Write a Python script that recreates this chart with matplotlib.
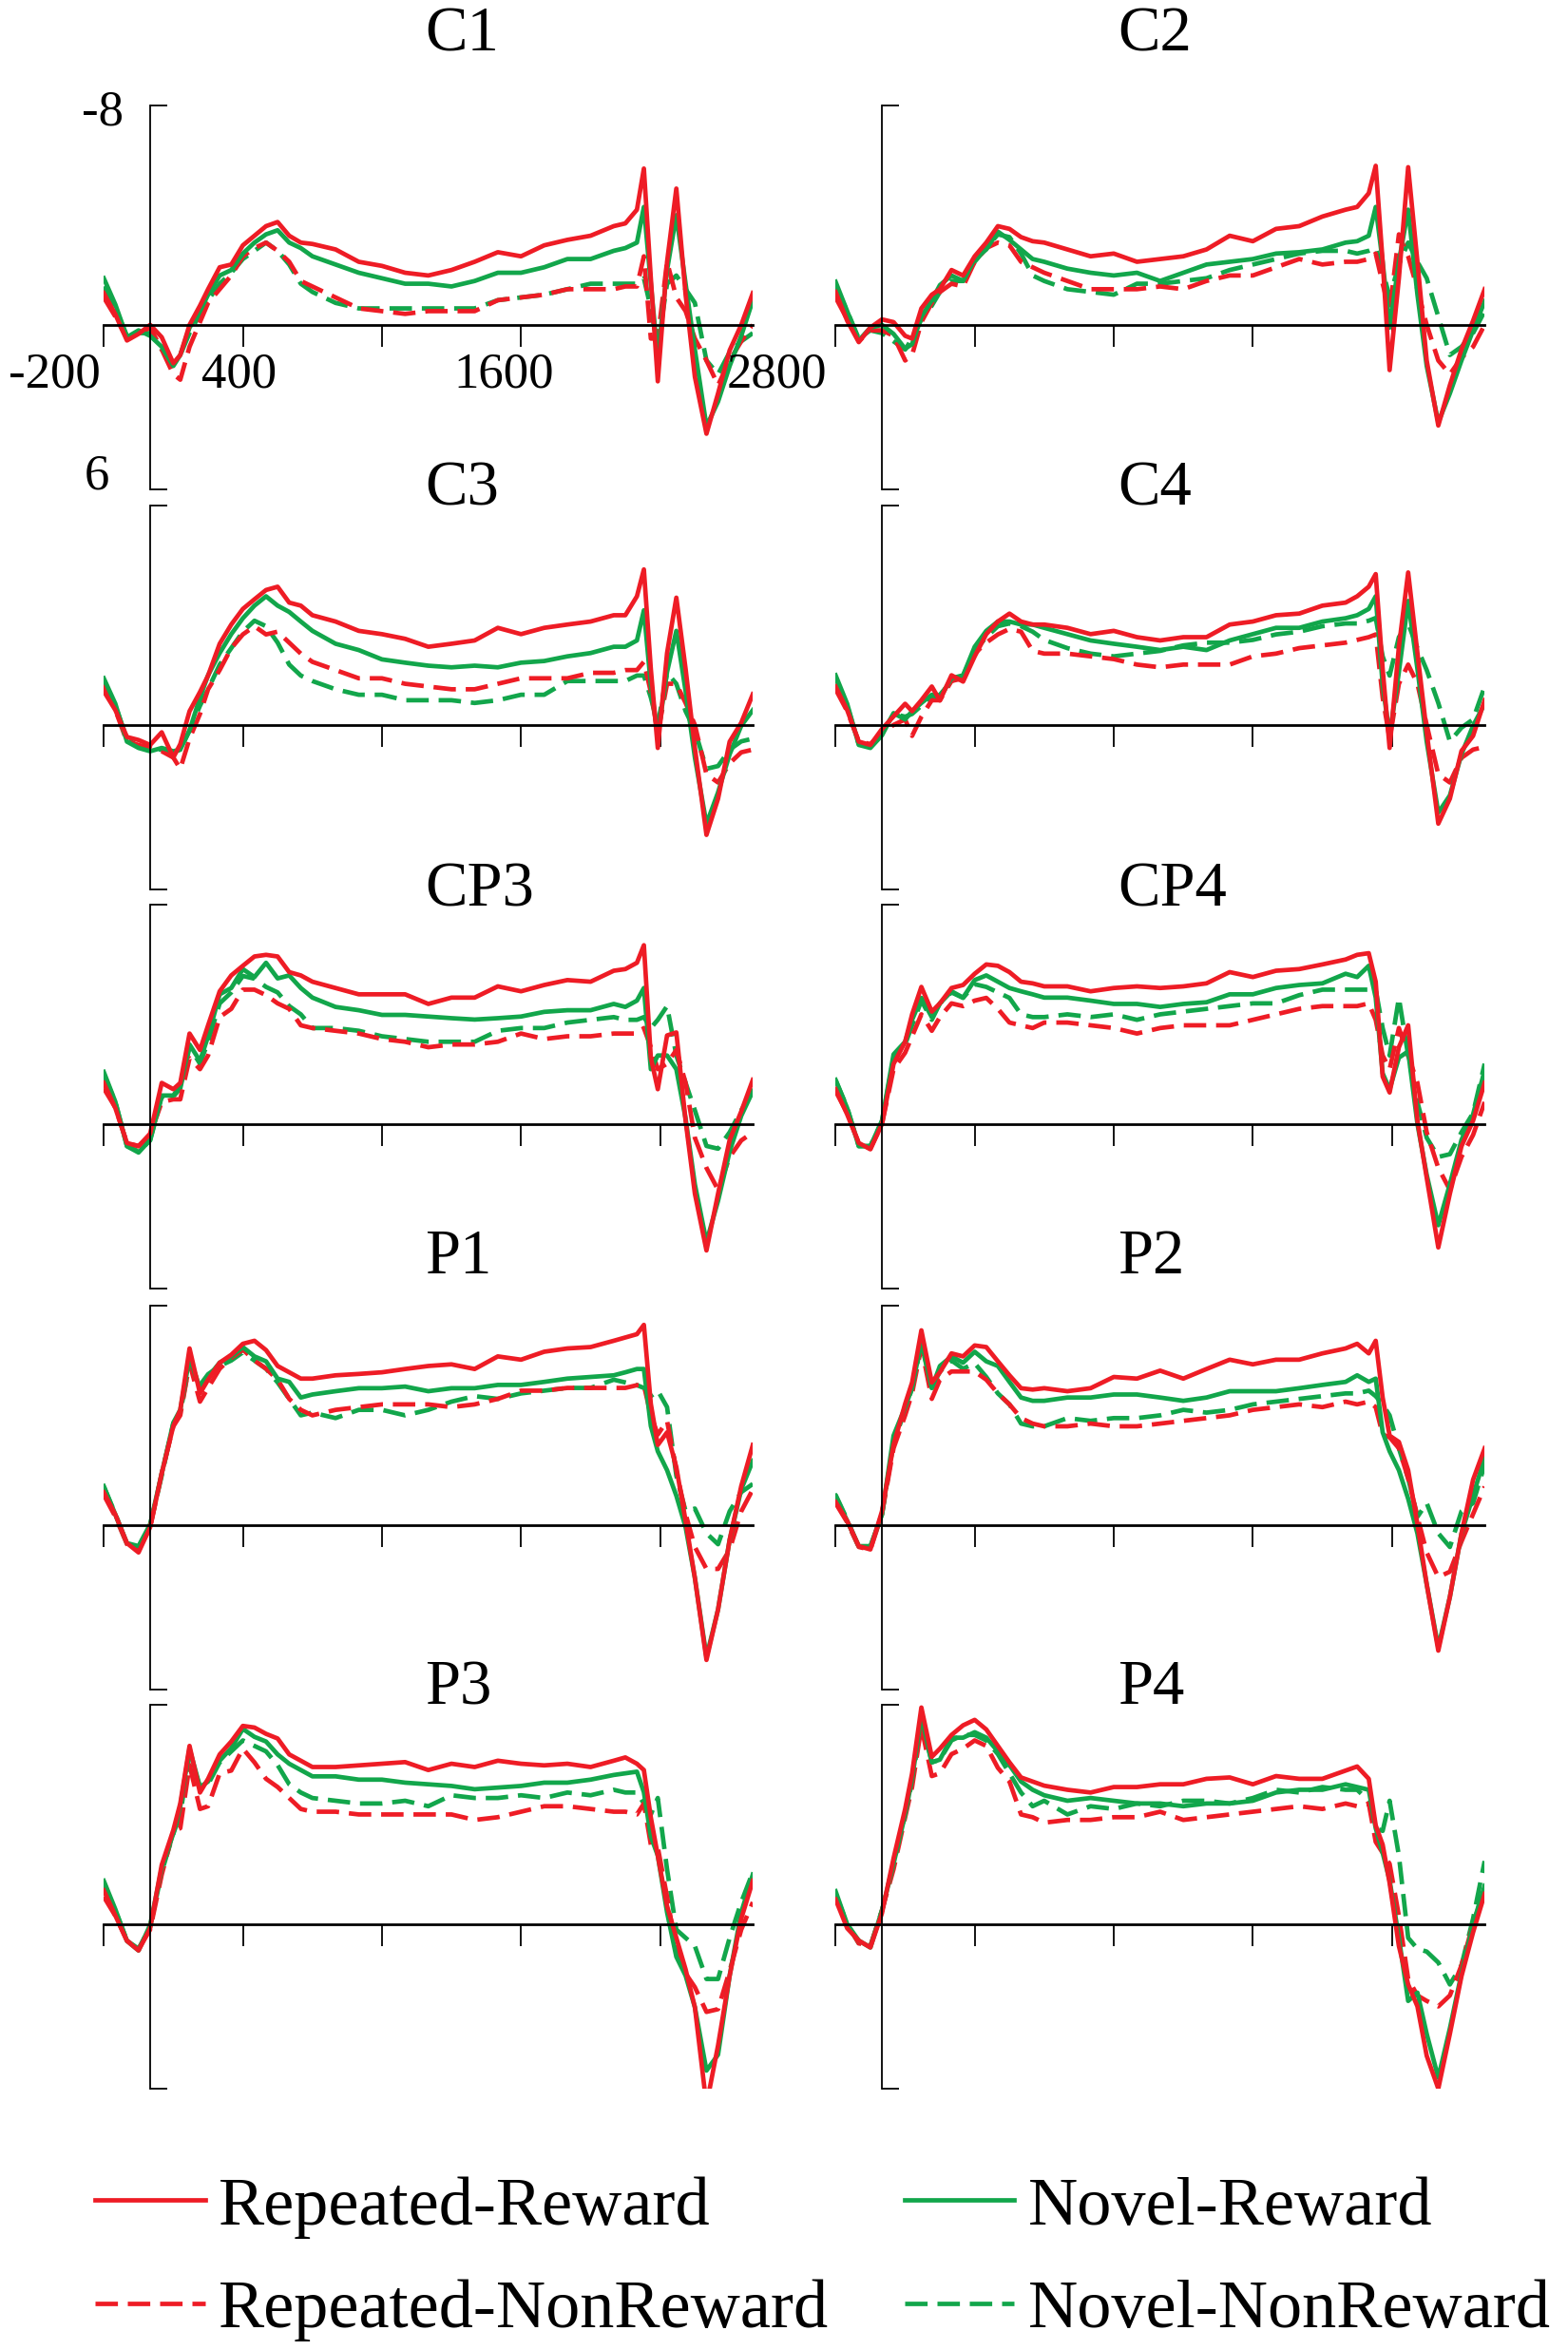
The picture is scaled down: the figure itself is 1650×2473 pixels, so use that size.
import matplotlib
matplotlib.use('Agg')
import matplotlib.pyplot as plt

# ---------------- data (microvolts, negative plotted upward) ----------------
T = [-200, -150, -100, -50, 0, 50, 100, 130, 170, 215, 250, 300, 350, 400, 450, 500, 550, 600, 650, 700,
     800, 900, 1000, 1100, 1200, 1300, 1400, 1500, 1600, 1700, 1800, 1900, 2000,
     2050, 2100, 2130, 2160, 2190, 2230, 2270, 2310, 2350, 2400, 2450, 2500, 2550, 2600]

CONDITIONS = ["Repeated-Reward", "Novel-Reward", "Repeated-NonReward", "Novel-NonReward"]
ELECTRODES = ["C1", "C2", "C3", "C4", "CP3", "CP4", "P1", "P2", "P3", "P4"]

C1_RR = [-1.16, -0.38, 0.57, 0.33, 0.0, 0.45, 1.4, 1.1, 0.0, -0.7, -1.3, -2.1, -2.2, -2.9, -3.25, -3.6, -3.75, -3.25, -3.0, -2.95,
         -2.75, -2.3, -2.15, -1.9, -1.8, -2.0, -2.3, -2.65, -2.5, -2.9, -3.1, -3.25, -3.6,
         -3.7, -4.2, -5.7, -1.7, 2.06, -2.3, -4.97, -1.1, 1.9, 3.97, 2.5, 0.93, 0.0, -1.16]
C1_NR = [-1.7, -0.74, 0.45, 0.2, 0.4, 0.8, 1.5, 1.1, 0.1, -0.5, -1.1, -1.8, -2.0, -2.6, -3.0, -3.3, -3.45, -3.0, -2.8, -2.5,
         -2.2, -1.9, -1.7, -1.5, -1.5, -1.4, -1.6, -1.9, -1.9, -2.1, -2.4, -2.4, -2.7,
         -2.8, -3.0, -4.3, -1.5, 1.2, -2.0, -4.0, -1.5, 0.9, 3.7, 2.8, 1.5, 0.4, -0.9]
C1_RNR = [-1.0, -0.3, 0.5, 0.3, 0.1, 0.9, 1.8, 2.0, 0.8, -0.1, -0.8, -1.3, -1.8, -2.5, -2.8, -3.0, -2.7, -2.3, -1.6, -1.4,
          -1.0, -0.6, -0.5, -0.4, -0.5, -0.5, -0.5, -0.9, -1.0, -1.1, -1.3, -1.3, -1.3,
          -1.4, -1.4, -2.5, 0.5, 0.5, -2.3, -1.0, -0.5, 0.5, 1.3, 2.2, 1.3, 0.6, 0.0]
C1_NNR = [-1.4, -0.6, 0.4, 0.3, 0.3, 0.9, 1.4, 1.1, 0.3, -0.4, -0.9, -1.5, -1.9, -2.4, -2.7, -3.0, -2.7, -2.2, -1.5, -1.2,
          -0.8, -0.6, -0.6, -0.6, -0.6, -0.6, -0.6, -0.9, -1.0, -1.1, -1.3, -1.5, -1.5,
          -1.5, -1.5, -1.7, -0.6, 0.8, -1.5, -1.8, -1.3, -0.8, 1.3, 1.8, 1.0, 0.6, 0.3]

C2_RR = [-1.2, -0.15, 0.63, 0.1, -0.2, -0.1, 0.4, 0.5, -0.6, -1.1, -1.3, -2.0, -1.8, -2.5, -3.0, -3.6, -3.5, -3.2, -3.05, -3.0,
         -2.75, -2.5, -2.6, -2.3, -2.4, -2.5, -2.75, -3.25, -3.05, -3.5, -3.6, -3.95, -4.2,
         -4.3, -4.8, -5.8, -2.3, 1.65, -1.7, -5.75, -2.3, 1.3, 3.67, 2.2, 0.9, -0.15, -1.3]
C2_NR = [-1.57, -0.5, 0.57, 0.1, 0.0, 0.33, 0.87, 0.7, -0.3, -0.9, -1.45, -1.8, -1.6, -2.4, -2.75, -3.4, -3.1, -2.75, -2.4, -2.3,
         -2.05, -1.9, -1.8, -1.9, -1.6, -1.9, -2.2, -2.3, -2.4, -2.6, -2.65, -2.75, -3.0,
         -3.05, -3.25, -4.3, -2.3, 0.1, -2.3, -4.2, -1.1, 1.5, 3.55, 2.5, 1.3, 0.2, -0.86]
C2_RNR = [-1.0, -0.2, 0.6, 0.2, 0.2, 0.4, 1.3, 1.1, -0.1, -0.8, -1.2, -1.5, -1.4, -2.3, -2.8, -3.0, -2.9, -2.3, -2.1, -1.9,
          -1.6, -1.3, -1.3, -1.3, -1.4, -1.3, -1.6, -1.8, -1.8, -2.1, -2.4, -2.2, -2.3,
          -2.3, -2.4, -2.6, -1.5, -0.5, -3.3, -2.5, -1.3, 0.0, 1.3, 1.8, 1.2, 0.8, 0.0]
C2_NNR = [-1.4, -0.5, 0.5, 0.2, 0.3, 0.6, 0.9, 0.5, -0.2, -0.7, -1.2, -1.6, -1.6, -2.3, -2.8, -3.3, -3.2, -2.6, -1.8, -1.6,
          -1.3, -1.2, -1.1, -1.5, -1.5, -1.6, -1.7, -2.0, -2.2, -2.4, -2.6, -2.7, -2.7,
          -2.6, -2.7, -2.8, -2.0, -1.0, -2.2, -3.0, -2.3, -1.7, -0.3, 1.1, 0.8, 0.3, -0.5]

C3_RR = [-1.23, -0.54, 0.44, 0.55, 0.73, 0.27, 1.19, 0.7, -0.5, -1.2, -1.8, -2.96, -3.66, -4.23, -4.58, -4.92, -5.04, -4.46, -4.35, -4.0,
         -3.77, -3.43, -3.31, -3.14, -2.85, -2.96, -3.08, -3.54, -3.31, -3.54, -3.66, -3.77, -4.0,
         -4.0, -4.69, -5.67, -2.04, 0.84, -2.62, -4.64, -2.04, 0.84, 4.01, 2.69, 0.61, -0.08, -1.12]
C3_NR = [-1.7, -0.77, 0.61, 0.84, 0.96, 0.84, 0.96, 0.9, 0.2, -1.0, -1.81, -2.62, -3.31, -3.89, -4.35, -4.69, -4.35, -4.12, -3.77, -3.43,
         -2.96, -2.73, -2.39, -2.27, -2.16, -2.1, -2.16, -2.1, -2.27, -2.33, -2.5, -2.62, -2.85,
         -2.85, -3.08, -4.18, -1.46, 0.38, -1.93, -3.43, -1.23, 1.19, 3.61, 2.46, 1.07, 0.03, -0.54]
C3_RNR = [-1.46, -0.54, 0.61, 0.73, 0.84, 0.96, 1.19, 1.6, 0.5, -0.4, -1.3, -2.0, -2.8, -3.3, -3.6, -3.3, -3.4, -3.0, -2.6, -2.3,
          -2.0, -1.7, -1.7, -1.5, -1.4, -1.3, -1.3, -1.5, -1.7, -1.7, -1.7, -1.9, -1.9,
          -2.0, -2.0, -2.3, -1.2, 0.3, -1.5, -1.5, -0.8, 0.0, 1.8, 2.1, 1.4, 1.0, 0.9]
C3_NNR = [-1.6, -0.7, 0.5, 0.8, 0.9, 0.9, 1.0, 0.9, 0.2, -0.7, -1.3, -2.2, -2.8, -3.4, -3.8, -3.6, -3.0, -2.2, -1.8, -1.6,
          -1.3, -1.1, -1.1, -0.9, -0.9, -0.9, -0.8, -0.9, -1.1, -1.1, -1.6, -1.6, -1.6,
          -1.6, -1.8, -1.8, -1.0, 0.0, -1.9, -1.5, -0.5, 0.2, 1.6, 1.5, 0.9, 0.6, 0.5]

C4_RR = [-1.4, -0.54, 0.61, 0.73, 0.15, -0.31, -0.77, -0.5, -0.9, -1.4, -0.89, -1.81, -1.58, -2.5, -3.31, -3.77, -4.06, -3.77, -3.66, -3.66,
         -3.54, -3.31, -3.43, -3.2, -3.08, -3.2, -3.2, -3.66, -3.77, -4.0, -4.06, -4.35, -4.46,
         -4.69, -5.04, -5.5, -2.04, 0.84, -2.85, -5.56, -2.62, 0.27, 3.6, 2.69, 0.95, 0.4, -0.9]
C4_NR = [-1.81, -0.77, 0.73, 0.84, 0.38, -0.43, -0.2, -0.5, -0.8, -1.1, -1.0, -1.7, -1.81, -2.85, -3.43, -3.77, -3.77, -3.66, -3.66, -3.54,
         -3.31, -3.08, -2.96, -2.85, -2.73, -2.85, -2.73, -3.08, -3.31, -3.54, -3.54, -3.77, -3.89,
         -4.0, -4.23, -4.69, -1.46, 0.38, -1.93, -4.52, -2.04, 0.61, 3.2, 2.57, 1.07, 0.03, -0.77]
C4_RNR = [-1.3, -0.5, 0.6, 0.7, 0.3, 0.0, -0.2, 0.4, -0.3, -0.9, -0.9, -1.6, -1.7, -2.6, -3.0, -3.3, -3.5, -3.4, -2.7, -2.6,
          -2.6, -2.5, -2.4, -2.2, -2.1, -2.2, -2.2, -2.2, -2.5, -2.6, -2.8, -2.9, -3.0,
          -3.1, -3.2, -3.3, -1.0, 0.5, -1.5, -2.2, -1.5, 0.0, 1.8, 2.1, 1.2, 0.9, 0.8]
C4_NNR = [-1.7, -0.7, 0.7, 0.8, 0.3, -0.4, -0.3, -0.4, -0.7, -1.0, -1.1, -1.6, -1.8, -2.7, -3.2, -3.6, -3.7, -3.6, -3.4, -3.1,
          -2.8, -2.6, -2.5, -2.6, -2.7, -2.9, -3.0, -3.0, -3.1, -3.3, -3.4, -3.6, -3.7,
          -3.7, -3.8, -3.9, -2.5, -1.8, -3.2, -3.7, -2.8, -2.0, -0.8, 0.6, 0.1, -0.2, -1.4]

CP3_RR = [-1.5, -0.58, 0.69, 0.81, 0.35, -1.5, -1.27, -1.5, -3.3, -2.7, -3.6, -4.84, -5.42, -5.77, -6.11, -6.17, -6.11, -5.54, -5.42, -5.19,
          -4.96, -4.73, -4.73, -4.73, -4.38, -4.61, -4.61, -5.02, -4.84, -5.07, -5.25, -5.19, -5.59,
          -5.65, -5.88, -6.52, -2.42, -1.27, -3.23, -3.34, -0.12, 2.54, 4.61, 2.54, 0.58, -0.46, -1.61]
CP3_NR = [-1.9, -0.81, 0.81, 1.04, 0.58, -1.04, -1.04, -1.4, -2.9, -2.3, -3.2, -4.73, -4.96, -5.65, -5.36, -5.88, -5.31, -5.42, -4.96, -4.61,
          -4.27, -4.15, -3.98, -3.98, -3.92, -3.86, -3.81, -3.86, -3.92, -4.09, -4.15, -4.15, -4.38,
          -4.27, -4.5, -4.96, -2.0, -2.5, -2.5, -2.0, -0.2, 2.2, 4.3, 2.8, 1.0, -0.3, -1.2]
CP3_RNR = [-1.3, -0.6, 0.7, 0.8, 0.4, -0.8, -0.9, -0.9, -2.4, -2.0, -2.5, -3.9, -4.2, -4.9, -4.9, -4.7, -4.4, -4.2, -3.6, -3.5,
           -3.4, -3.3, -3.1, -3.0, -2.8, -2.9, -2.9, -3.0, -3.3, -3.1, -3.2, -3.2, -3.3,
           -3.3, -3.3, -3.5, -2.8, -2.0, -2.2, -2.7, -1.5, 0.5, 1.6, 2.4, 1.2, 0.6, 0.3]
CP3_NNR = [-1.8, -0.8, 0.8, 1.0, 0.6, -1.0, -1.0, -1.3, -2.8, -2.2, -3.0, -4.4, -4.8, -5.4, -5.3, -5.0, -4.8, -4.3, -4.0, -3.5,
           -3.5, -3.4, -3.2, -3.1, -3.0, -3.0, -3.0, -3.4, -3.5, -3.5, -3.7, -3.8, -3.9,
           -3.8, -3.8, -3.9, -3.5, -3.8, -4.3, -2.5, -1.5, -0.5, 0.8, 0.9, 0.3, -0.5, -1.2]

CP4_RR = [-1.27, -0.35, 0.69, 0.92, 0.0, -2.19, -3.0, -4.0, -5.0, -4.1, -4.4, -4.96, -5.07, -5.48, -5.82, -5.77, -5.54, -5.19, -5.13, -5.02,
          -5.02, -4.84, -4.96, -5.02, -4.96, -5.02, -5.13, -5.54, -5.36, -5.59, -5.65, -5.82, -6.0,
          -6.17, -6.23, -5.19, -1.73, -1.15, -2.8, -3.6, -0.12, 1.96, 4.5, 2.54, 0.81, -0.12, -1.5]
CP4_NR = [-1.61, -0.58, 0.81, 0.81, -0.12, -2.54, -3.0, -3.8, -4.6, -3.9, -4.4, -4.84, -4.61, -5.25, -5.42, -5.19, -4.96, -4.84, -4.73, -4.61,
          -4.61, -4.5, -4.38, -4.38, -4.27, -4.38, -4.44, -4.73, -4.73, -4.96, -5.07, -5.13, -5.48,
          -5.36, -5.77, -4.61, -1.85, -1.27, -2.42, -2.65, 0.0, 1.85, 3.69, 2.19, 0.58, -0.35, -1.96]
CP4_RNR = [-1.2, -0.4, 0.7, 0.9, 0.0, -2.0, -2.6, -3.2, -4.0, -3.4, -3.9, -4.4, -4.3, -4.5, -4.6, -4.2, -3.7, -3.6, -3.5, -3.7,
           -3.7, -3.6, -3.5, -3.3, -3.5, -3.6, -3.6, -3.6, -3.8, -4.0, -4.2, -4.3, -4.3,
           -4.3, -4.4, -3.8, -2.5, -2.0, -3.5, -2.5, -1.5, 0.3, 1.6, 2.4, 1.2, 0.4, -0.8]
CP4_NNR = [-1.6, -0.6, 0.8, 0.8, -0.1, -2.4, -2.9, -3.6, -4.5, -3.8, -4.4, -4.8, -4.6, -5.1, -5.0, -4.8, -4.6, -4.0, -3.9, -3.9,
           -4.0, -3.9, -4.0, -3.8, -4.0, -4.1, -4.2, -4.3, -4.4, -4.4, -4.7, -4.9, -4.9,
           -4.9, -4.9, -4.9, -3.5, -2.5, -4.6, -2.5, -0.8, 0.5, 1.2, 1.1, 0.3, -0.4, -2.2]

P1_RR = [-1.19, -0.38, 0.66, 1.0, 0.08, -1.88, -3.61, -4.2, -6.44, -4.8, -5.3, -5.92, -6.21, -6.61, -6.72, -6.38, -5.8, -5.57, -5.34, -5.34,
         -5.46, -5.51, -5.57, -5.69, -5.8, -5.86, -5.69, -6.15, -6.03, -6.32, -6.44, -6.49, -6.72,
         -6.84, -6.96, -7.3, -4.42, -2.92, -3.38, -2.11, -0.15, 1.93, 4.92, 3.08, 0.54, -1.42, -2.92]
P1_NR = [-1.42, -0.38, 0.66, 0.77, -0.03, -1.88, -3.73, -4.2, -6.1, -5.0, -5.4, -5.92, -6.15, -6.49, -6.15, -5.97, -5.34, -5.22, -4.65, -4.76,
         -4.88, -4.99, -4.99, -5.05, -4.88, -4.99, -4.99, -5.11, -5.11, -5.22, -5.34, -5.4, -5.46,
         -5.57, -5.69, -5.69, -3.61, -2.69, -2.0, -1.07, 0.08, 1.93, 4.81, 3.08, 0.54, -1.3, -2.34]
P1_RNR = [-1.1, -0.3, 0.7, 0.9, 0.1, -1.9, -3.6, -4.0, -5.9, -4.5, -5.0, -5.7, -6.1, -6.4, -6.0, -5.7, -5.3, -4.6, -4.2, -4.0,
          -4.2, -4.3, -4.4, -4.4, -4.4, -4.3, -4.4, -4.6, -4.9, -4.9, -5.0, -5.0, -5.0,
          -5.0, -5.1, -5.1, -4.0, -3.3, -3.8, -2.0, -0.4, 0.8, 1.6, 1.6, 0.9, -0.5, -1.3]
P1_NNR = [-1.4, -0.4, 0.7, 0.8, 0.0, -1.8, -3.7, -4.1, -5.9, -5.1, -5.5, -5.8, -6.0, -6.3, -6.0, -5.7, -5.2, -4.6, -4.0, -4.1,
          -3.9, -4.2, -4.2, -4.0, -4.2, -4.5, -4.7, -4.6, -4.8, -4.9, -5.0, -5.0, -5.3,
          -5.2, -5.1, -5.0, -4.7, -4.9, -4.3, -1.8, -0.5, -0.6, 0.3, 0.7, -0.5, -1.2, -1.5]

P2_RR = [-0.84, -0.15, 0.77, 0.89, -0.5, -2.92, -4.42, -5.2, -7.1, -5.2, -5.57, -6.26, -6.15, -6.55, -6.49, -5.97, -5.46, -4.99, -4.94, -4.99,
         -4.88, -4.99, -5.4, -5.34, -5.63, -5.34, -5.69, -6.03, -5.86, -6.03, -6.03, -6.26, -6.44,
         -6.61, -6.26, -6.72, -4.65, -3.26, -3.03, -2.0, -0.03, 2.16, 4.58, 2.62, 0.31, -1.65, -2.8]
P2_NR = [-1.07, -0.15, 0.77, 0.77, -0.38, -3.26, -4.3, -5.0, -6.7, -5.0, -5.8, -6.15, -5.92, -6.32, -5.97, -5.8, -5.22, -4.65, -4.53, -4.53,
         -4.65, -4.65, -4.76, -4.76, -4.65, -4.53, -4.65, -4.88, -4.88, -4.88, -4.99, -5.11, -5.22,
         -5.46, -5.22, -5.34, -3.38, -2.69, -2.0, -0.96, 0.31, 2.16, 4.46, 2.62, 0.31, -1.07, -2.46]
P2_RNR = [-0.8, -0.1, 0.8, 0.9, -0.4, -2.8, -4.0, -4.8, -6.5, -4.6, -5.3, -5.6, -5.6, -5.6, -5.3, -4.8, -4.4, -3.9, -3.7, -3.6,
          -3.6, -3.7, -3.6, -3.6, -3.7, -3.8, -3.9, -4.0, -4.2, -4.3, -4.4, -4.3, -4.5,
          -4.4, -4.5, -4.3, -3.3, -3.2, -2.8, -1.7, -0.3, 1.0, 1.9, 1.7, 0.6, -0.4, -1.4]
P2_NNR = [-1.1, -0.2, 0.8, 0.8, -0.4, -3.0, -4.2, -5.0, -6.6, -5.0, -5.6, -6.0, -5.7, -5.9, -5.4, -4.8, -4.4, -3.7, -3.6, -3.6,
          -3.9, -3.8, -3.9, -3.9, -4.0, -4.2, -4.1, -4.2, -4.4, -4.5, -4.6, -4.7, -4.8,
          -4.8, -4.9, -4.7, -4.4, -4.0, -2.8, -1.7, -0.3, -0.8, 0.3, 0.8, -0.5, -0.8, -2.2]

P3_RR = [-1.23, -0.31, 0.61, 0.96, 0.15, -2.16, -3.43, -4.4, -6.5, -4.8, -5.3, -6.19, -6.66, -7.23, -7.17, -6.94, -6.77, -6.19, -5.96, -5.73,
         -5.73, -5.79, -5.85, -5.91, -5.62, -5.85, -5.73, -5.96, -5.85, -5.79, -5.85, -5.73, -5.96,
         -6.08, -5.85, -5.62, -3.89, -2.5, -0.66, 0.5, 1.65, 3.03, 6.6, 4.42, 1.88, -0.2, -1.58]
P3_NR = [-1.58, -0.54, 0.61, 0.96, 0.03, -2.04, -3.31, -4.3, -6.4, -5.0, -5.2, -5.96, -6.42, -7.12, -6.83, -6.66, -6.19, -5.85, -5.62, -5.39,
         -5.39, -5.27, -5.27, -5.16, -5.1, -5.04, -4.92, -4.98, -5.04, -5.16, -5.16, -5.27, -5.44,
         -5.5, -5.56, -4.81, -3.2, -2.5, -0.43, 1.19, 1.88, 3.03, 5.34, 4.76, 1.88, -0.43, -1.81]
P3_RNR = [-1.0, -0.3, 0.6, 0.9, 0.2, -1.8, -3.4, -3.5, -5.8, -4.2, -4.3, -5.5, -5.6, -6.4, -5.9, -5.3, -5.0, -4.6, -4.2, -4.1,
          -4.1, -4.0, -4.0, -4.0, -4.0, -4.0, -3.8, -3.9, -4.1, -4.3, -4.3, -4.2, -4.1,
          -4.1, -4.0, -4.4, -2.9, -2.8, -1.0, 1.0, 1.8, 2.3, 3.2, 3.1, 1.7, 0.2, -0.8]
P3_NNR = [-1.4, -0.5, 0.6, 0.9, 0.1, -1.9, -3.3, -4.0, -6.2, -5.0, -5.1, -5.9, -6.3, -6.7, -6.5, -6.3, -5.8, -5.1, -4.8, -4.6,
          -4.5, -4.4, -4.4, -4.5, -4.3, -4.7, -4.6, -4.6, -4.7, -4.6, -4.8, -4.7, -4.9,
          -4.8, -4.8, -4.4, -4.0, -4.6, -2.0, 0.2, 0.5, 0.8, 2.0, 2.0, 0.5, -0.8, -1.9]

P4_RR = [-0.9, 0.15, 0.6, 0.85, -0.4, -2.4, -4.2, -5.5, -7.9, -6.1, -6.4, -6.9, -7.25, -7.45, -7.1, -6.5, -5.9, -5.35, -5.2, -5.05,
         -4.9, -4.8, -5.0, -5.0, -5.1, -5.1, -5.3, -5.35, -5.1, -5.4, -5.3, -5.3, -5.6,
         -5.75, -5.3, -3.6, -2.9, -1.5, 0.8, 2.2, 3.0, 4.8, 6.0, 4.0, 1.9, 0.3, -1.1]
P4_NR = [-1.2, 0.0, 0.6, 0.85, -0.5, -2.2, -4.0, -5.3, -7.6, -5.9, -6.0, -6.8, -6.8, -7.0, -6.8, -6.3, -5.8, -5.2, -4.9, -4.7,
         -4.5, -4.6, -4.5, -4.4, -4.4, -4.3, -4.4, -4.4, -4.5, -4.8, -4.9, -4.9, -5.1,
         -5.0, -4.9, -3.5, -2.6, -1.6, 0.5, 2.8, 2.5, 4.0, 5.6, 3.8, 1.8, 0.0, -1.4]
P4_RNR = [-1.0, 0.0, 0.7, 0.8, -0.5, -2.0, -3.9, -5.0, -7.2, -5.4, -5.5, -6.2, -6.4, -6.7, -6.5, -5.7, -5.2, -4.0, -3.9, -3.7,
          -3.8, -3.8, -3.9, -3.9, -4.1, -3.8, -3.9, -4.0, -4.1, -4.2, -4.3, -4.2, -4.4,
          -4.3, -4.4, -3.0, -2.6, -2.2, -0.3, 2.0, 2.6, 2.8, 3.0, 2.6, 1.5, 0.0, -1.3]
P4_NNR = [-1.1, 0.0, 0.7, 0.8, -0.5, -2.2, -4.0, -5.2, -7.4, -5.9, -6.0, -6.7, -6.9, -6.9, -6.7, -6.2, -5.5, -4.8, -4.3, -4.5,
          -4.0, -4.3, -4.2, -4.4, -4.3, -4.5, -4.5, -4.4, -4.6, -4.9, -4.8, -5.0, -4.9,
          -4.9, -4.5, -3.5, -3.4, -4.5, -2.5, 0.5, 0.9, 1.0, 1.4, 2.2, 1.5, -0.2, -2.3]

XTICKS = [-200, 400, 1000, 1600, 2200]
XLABELS = ["-200", "400", "1600", "2800"]
XLABEL_POS = [-414, 385, 1527, 2705]
YLABELS = ["-8", "6"]

# ---------------- layout ----------------
W, H, DPI = 1650, 2473, 100
plt.rcParams['font.family'] = ['Liberation Serif', 'DejaVu Serif']
fig = plt.figure(figsize=(W / DPI, H / DPI), dpi=DPI)

RED = '#EE1C25'
GREEN = '#12A64B'
LW = 3.4
DASH = (0, (5, 2.2))

col_left = [109.2, 879.3]
col_title = [447, 1176]
ax_w = 683
ax_h = 404
row_top = [111, 532, 952, 1374, 1794]
title_base = [54, 532, 953, 1340, 1793]

series = {}
for name in ELECTRODES:
    series[name] = [globals()[name + s] for s in ("_RR", "_NR", "_RNR", "_NNR")]

handles = None
for i, name in enumerate(ELECTRODES):
    r, c = divmod(i, 2)
    ax = fig.add_axes([col_left[c] / W, 1 - (row_top[r] + ax_h) / H, ax_w / W, ax_h / H])
    ax.patch.set_visible(False)
    rr, nr, rnr, nnr = series[name]
    l_nnr, = ax.plot(T, nnr, color=GREEN, lw=LW, ls=DASH)
    l_rnr, = ax.plot(T, rnr, color=RED, lw=LW, ls=DASH)
    l_nr, = ax.plot(T, nr, color=GREEN, lw=LW)
    l_rr, = ax.plot(T, rr, color=RED, lw=LW)
    if handles is None:
        handles = [l_rr, l_nr, l_rnr, l_nnr]
    ax.set_xlim(-200, 2600)
    ax.set_ylim(6, -8)
    for s in ('top', 'right'):
        ax.spines[s].set_visible(False)
    ax.spines['left'].set_position(('data', 0))
    ax.spines['bottom'].set_position(('data', 0))
    ax.spines['left'].set_linewidth(1.3)
    ax.spines['bottom'].set_linewidth(2.0)
    ax.set_xticks(XTICKS)
    ax.set_xticklabels([])
    ax.set_yticks([-8, 6])
    ax.set_yticklabels([])
    ax.tick_params(axis='x', direction='out', length=16.5, width=1.3)
    ax.tick_params(axis='y', direction='in', length=13, width=1.3)
    fig.text(col_title[c] / W, 1 - title_base[r] / H, name, fontsize=48,
             ha='left', va='baseline')
    if i == 0:
        for lab, xp in zip(XLABELS, XLABEL_POS):
            ax.text(xp, 1.83, lab, fontsize=38, ha='center', va='center', clip_on=False)
        ax.text(-205, -7.75, YLABELS[0], fontsize=38, ha='center', va='center', clip_on=False)
        ax.text(-228, 5.54, YLABELS[1], fontsize=38, ha='center', va='center', clip_on=False)

order = [0, 2, 1, 3]
fig.legend([handles[k] for k in order], [CONDITIONS[k] for k in order],
           ncol=2, loc='upper left', bbox_to_anchor=(100 / W, 1 - 2290 / H),
           frameon=False, fontsize=52, handlelength=1.6, handletextpad=0.2,
           columnspacing=1.1, labelspacing=0.6, borderpad=0, borderaxespad=0)

fig.savefig('out.png', dpi=DPI)
